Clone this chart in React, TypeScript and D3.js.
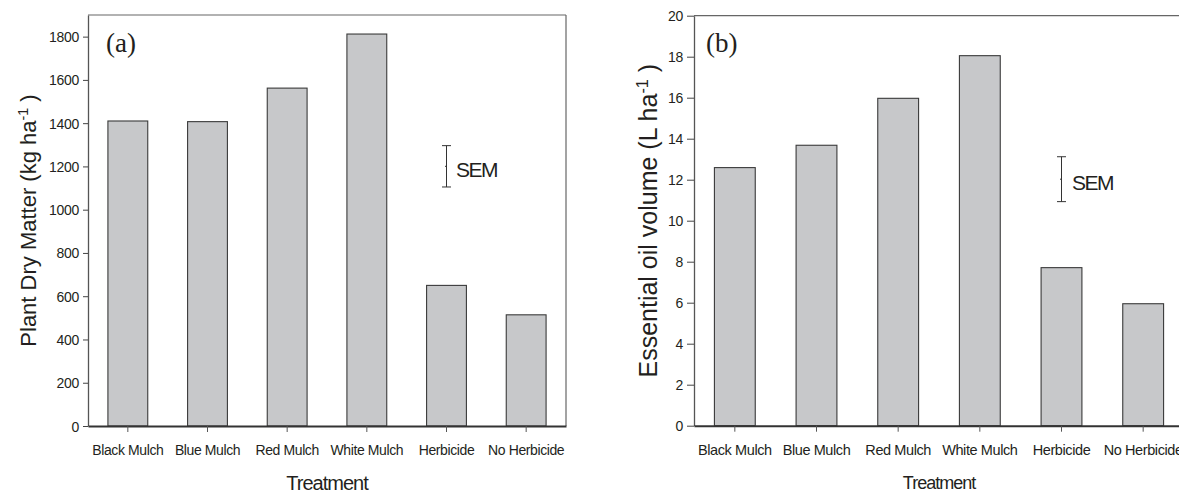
import React, { useEffect, useRef } from 'react';
import * as d3 from 'd3';

// treatments shared by both panels
const treatments = ['Black Mulch', 'Blue Mulch', 'Red Mulch', 'White Mulch', 'Herbicide', 'No Herbicide'];

// (a) plant dry matter, kg/ha
const dryMatter = [1410, 1407, 1562, 1812, 650, 514];
const dryMatterTicks = [0, 200, 400, 600, 800, 1000, 1200, 1400, 1600, 1800];
const dryMatterSem = [1105, 1296]; // low, high of SEM bar

// (b) essential oil volume, L/ha
const oilVolume = [12.59, 13.68, 15.97, 18.05, 7.71, 5.95];
const oilVolumeTicks = [0, 2, 4, 6, 8, 10, 12, 14, 16, 18, 20];
const oilVolumeSem = [10.93, 13.12];

const FONT = "'Liberation Sans', Arial, sans-serif";
const SERIF = "'Liberation Serif', 'Times New Roman', serif";
const INK = '#231f20';

const panels = [
  {
    tag: '(a)', values: dryMatter, ticks: dryMatterTicks, sem: dryMatterSem, yMax: 1900,
    title: 'Plant Dry Matter (kg ha', titleSize: 22, titleX: 36,
    left: 88, right: 566, top: 15, bottom: 426,
    tagDx: 18, tickSize: 5, xLabelSize: 14, xTitleSize: 20, xTitleY: 490, semDx: 9.5, semDy: 11,
  },
  {
    tag: '(b)', values: oilVolume, ticks: oilVolumeTicks, sem: oilVolumeSem, yMax: 20,
    title: 'Essential oil volume (L ha', titleSize: 25, titleX: 657,
    left: 694, right: 1184, top: 15.7, bottom: 425.7,
    tagDx: 12, tickSize: 7, xLabelSize: 14.5, xTitleSize: 18, xTitleY: 489, semDx: 10.6, semDy: 11,
  },
];

const App = () => {
  const svgRef = useRef(null);

  useEffect(() => {
    const svg = d3.select(svgRef.current);
    svg.selectAll('*').remove();

    panels.forEach(p => {
      const g = svg.append('g');

      const x = d3.scaleBand()
        .domain(treatments)
        .range([p.left, p.right])
        .paddingInner(0.5)
        .paddingOuter(0.25);

      const y = d3.scaleLinear()
        .domain([0, p.yMax])
        .range([p.bottom, p.top]);

      // frame top and right
      g.append('line')
        .attr('x1', p.left).attr('x2', p.right)
        .attr('y1', p.top).attr('y2', p.top)
        .attr('stroke', '#666').attr('stroke-width', 1.2);
      g.append('line')
        .attr('x1', p.right).attr('x2', p.right)
        .attr('y1', p.top).attr('y2', p.bottom)
        .attr('stroke', '#666').attr('stroke-width', 1.2);

      // bars
      g.selectAll('.bar')
        .data(p.values)
        .enter().append('rect')
        .attr('class', 'bar')
        .attr('x', (d, i) => x(treatments[i]))
        .attr('y', d => y(d))
        .attr('width', x.bandwidth())
        .attr('height', d => y(0) - y(d))
        .attr('fill', '#c7c8ca')
        .attr('stroke', '#3a3a3a')
        .attr('stroke-width', 1.1);

      // y axis
      const yAxis = g.append('g')
        .attr('transform', `translate(${p.left},0)`)
        .call(d3.axisLeft(y).tickValues(p.ticks).tickFormat(d3.format('d'))
          .tickSize(p.tickSize).tickPadding(4).tickSizeOuter(0));
      yAxis.select('.domain').attr('stroke', '#555').attr('stroke-width', 1.3);
      yAxis.selectAll('.tick line').attr('stroke', '#444');
      yAxis.selectAll('text')
        .attr('fill', INK)
        .attr('dy', '0.36em')
        .style('font-family', FONT)
        .style('font-size', '14px')
        .style('letter-spacing', '-0.3px');

      // x axis
      const xAxis = g.append('g')
        .attr('transform', `translate(0,${p.bottom})`)
        .call(d3.axisBottom(x).tickSize(6).tickPadding(13).tickSizeOuter(0));
      xAxis.select('.domain').attr('stroke', '#333').attr('stroke-width', 2);
      xAxis.selectAll('.tick line').attr('stroke', '#555');
      xAxis.selectAll('text')
        .attr('fill', INK)
        .attr('dy', '0.71em')
        .style('font-family', FONT)
        .style('font-size', `${p.xLabelSize}px`)
        .style('letter-spacing', '-0.4px');

      // x title
      g.append('text')
        .attr('x', (p.left + p.right) / 2)
        .attr('y', p.xTitleY)
        .attr('text-anchor', 'middle')
        .attr('fill', INK)
        .style('font-family', FONT)
        .style('font-size', `${p.xTitleSize}px`)
        .style('letter-spacing', '-1px')
        .text('Treatment');

      // y title with superscript
      const yt = g.append('text')
        .attr('transform', `translate(${p.titleX},${(p.top + p.bottom) / 2}) rotate(-90)`)
        .attr('text-anchor', 'middle')
        .attr('fill', INK)
        .style('font-family', FONT)
        .style('font-size', `${p.titleSize}px`);
      yt.append('tspan').text(p.title);
      yt.append('tspan').attr('dy', '-0.55em').style('font-size', '0.65em').text('-1');
      yt.append('tspan').attr('dy', '0.357em').text(' )');

      // panel tag
      g.append('text')
        .attr('x', p.left + p.tagDx)
        .attr('y', 52)
        .attr('fill', INK)
        .style('font-family', SERIF)
        .style('font-size', '27px')
        .text(p.tag);

      // SEM bar, drawn at the Herbicide position
      const cx = x('Herbicide') + x.bandwidth() / 2;
      const [lo, hi] = p.sem;
      const semG = g.append('g').attr('stroke', '#333').attr('stroke-width', 1);
      semG.append('line').attr('x1', cx).attr('x2', cx).attr('y1', y(lo)).attr('y2', y(hi));
      semG.append('line').attr('x1', cx - 4.5).attr('x2', cx + 4.5).attr('y1', y(lo)).attr('y2', y(lo));
      semG.append('line').attr('x1', cx - 4.5).attr('x2', cx + 4.5).attr('y1', y(hi)).attr('y2', y(hi));
      semG.append('line').attr('x1', cx - 1.5).attr('x2', cx).attr('y1', y((lo + hi) / 2)).attr('y2', y((lo + hi) / 2));

      g.append('text')
        .attr('x', cx + p.semDx)
        .attr('y', y((lo + hi) / 2) + p.semDy)
        .attr('fill', INK)
        .style('font-family', FONT)
        .style('font-size', '21px')
        .style('letter-spacing', '-1.5px')
        .text('SEM');
    });
  }, []);

  return (
    <svg
      ref={svgRef}
      width={1179}
      height={495}
      style={{ position: 'absolute', left: 0, top: 0, background: '#fff' }}
    />
  );
};

export default App;
